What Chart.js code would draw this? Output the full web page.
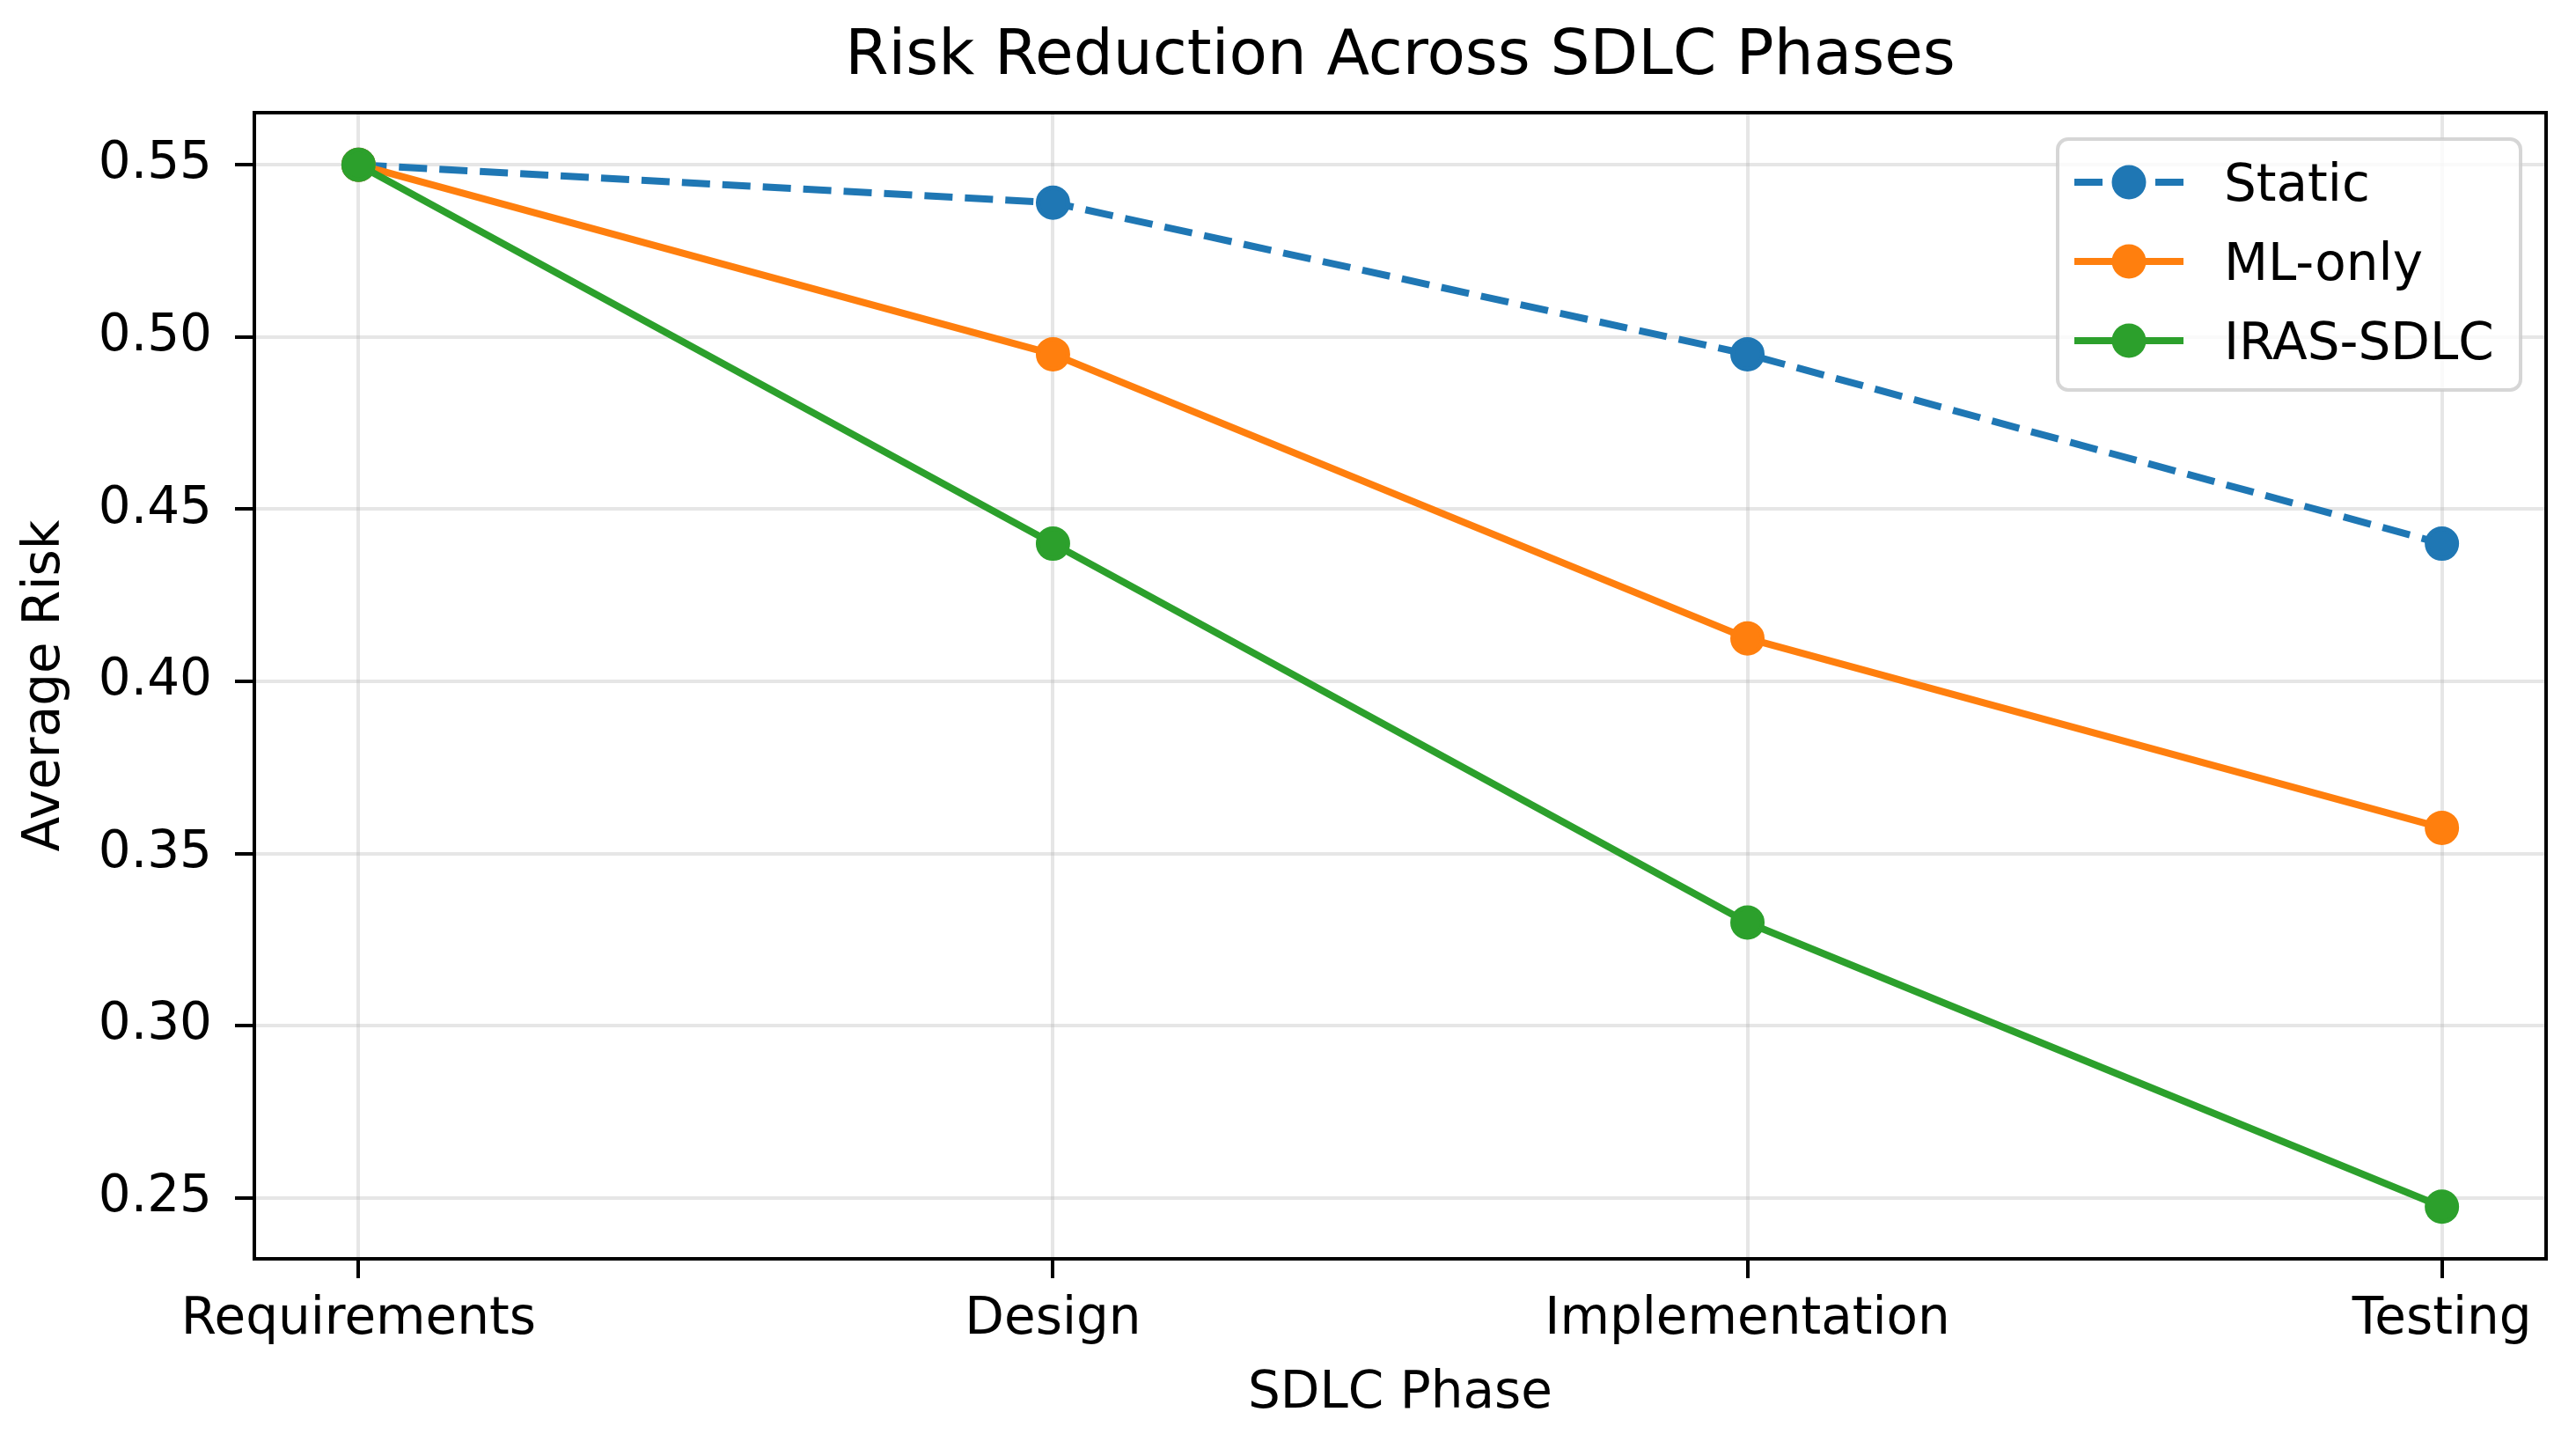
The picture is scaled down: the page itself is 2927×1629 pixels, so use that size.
<!DOCTYPE html>
<html><head><meta charset="utf-8">
<script src="https://cdn.jsdelivr.net/npm/chart.js@4/dist/chart.umd.min.js"></script>
<style>html,body{margin:0;padding:0;background:#fff;}#wrap{width:2927px;height:1629px;}</style>
</head><body><div id="wrap"><canvas id="c" width="2927" height="1629"></canvas></div>
<script>
const phases = ['Requirements', 'Design', 'Implementation', 'Testing'];
const staticRisk = [0.55, 0.539, 0.495, 0.44];
const mlOnlyRisk = [0.55, 0.495, 0.4125, 0.3575];
const irasRisk = [0.55, 0.44, 0.33, 0.2475];
const yTickValues = [0.25, 0.30, 0.35, 0.40, 0.45, 0.50, 0.55];
const seriesNames = ['Static', 'ML-only', 'IRAS-SDLC'];
const seriesColors = ['#1f77b4', '#ff7f0e', '#2ca02c'];
const seriesDashes = [[32, 14], [], []];
const chartTitle = 'Risk Reduction Across SDLC Phases';
const xTitle = 'SDLC Phase';
const yTitle = 'Average Risk';

const FONT = 'DejaVu Sans';
const allVals = staticRisk.concat(mlOnlyRisk, irasRisk);
const dMin = Math.min(...allVals), dMax = Math.max(...allVals);
const yPad = (dMax - dMin) * 0.05;
const xPad = (phases.length - 1) * 0.05;

const seriesData = [staticRisk, mlOnlyRisk, irasRisk];
const datasets = seriesData.map((arr, k) => ({
  label: seriesNames[k],
  data: arr.map((v, i) => ({x: i, y: v})),
  borderColor: seriesColors[k],
  backgroundColor: seriesColors[k],
  pointBackgroundColor: seriesColors[k],
  pointBorderColor: seriesColors[k],
  borderWidth: 8,
  borderDash: seriesDashes[k],
  pointRadius: 17,
  pointBorderWidth: 5,
  pointHoverRadius: 17,
  tension: 0,
  fill: false,
  order: 3 - k
}));

const tickFont = {family: FONT, size: 58, weight: 'normal', lineHeight: 1.2};
const gridOpts = {color: 'rgba(176,176,176,0.32)', lineWidth: 4, tickLength: 22, tickColor: '#000', tickWidth: 4, drawTicks: true};

const frameAndLegend = {
  id: 'frameAndLegend',
  afterDatasetsDraw(chart) {
    const {ctx, chartArea: a} = chart;
    ctx.save();
    ctx.strokeStyle = '#000';
    ctx.lineWidth = 4;
    ctx.strokeRect(a.left, a.top, a.right - a.left, a.bottom - a.top);
    ctx.restore();
  },
  afterDraw(chart) {
    const {ctx, chartArea: a} = chart;
    ctx.save();
    // title centred over the plot area
    ctx.fillStyle = '#000';
    ctx.font = '71px "' + FONT + '"';
    ctx.textAlign = 'center';
    ctx.textBaseline = 'middle';
    ctx.fillText(chartTitle, (a.left + a.right) / 2, 66);
    // legend
    const bx = 2338, by = 158, bw = 526, bh = 285, r = 12;
    ctx.beginPath();
    ctx.roundRect(bx, by, bw, bh, r);
    ctx.fillStyle = 'rgba(255,255,255,0.8)';
    ctx.fill();
    ctx.strokeStyle = 'rgba(204,204,204,0.8)';
    ctx.lineWidth = 4;
    ctx.stroke();
    const rowY = [207, 297, 387];
    chart.data.datasets.forEach((ds, k) => {
      const y = rowY[k];
      ctx.beginPath();
      ctx.setLineDash(seriesDashes[k]);
      ctx.strokeStyle = ds.borderColor;
      ctx.lineWidth = 8;
      ctx.moveTo(2357, y);
      ctx.lineTo(2481, y);
      ctx.stroke();
      ctx.setLineDash([]);
      ctx.beginPath();
      ctx.arc(2419, y, 19.5, 0, Math.PI * 2);
      ctx.fillStyle = ds.borderColor;
      ctx.fill();
      ctx.fillStyle = '#000';
      ctx.font = '58px "' + FONT + '"';
      ctx.textBaseline = 'alphabetic';
      ctx.textAlign = 'left';
      ctx.fillText(ds.label, 2527, y + 21);
    });
    ctx.restore();
  }
};

new Chart(document.getElementById('c'), {
  type: 'line',
  data: {datasets},
  options: {
    responsive: false,
    animation: false,
    devicePixelRatio: 1,
    events: [],
    layout: {padding: {left: 0, right: 34, top: 128, bottom: 0}},
    plugins: {
      legend: {display: false},
      tooltip: {enabled: false},
      title: {display: false}
    },
    scales: {
      x: {
        type: 'linear',
        min: -xPad, max: (phases.length - 1) + xPad,
        afterBuildTicks: s => { s.ticks = phases.map((p, i) => ({value: i})); },
        afterFit: s => { s.height = 199; },
        ticks: {autoSkip: false, maxRotation: 0, minRotation: 0, color: '#000', font: tickFont, padding: 13,
                callback: v => phases[v]},
        grid: gridOpts,
        border: {display: false},
        title: {display: true, text: xTitle, color: '#000', font: tickFont, padding: {top: 0, bottom: 10}}
      },
      y: {
        type: 'linear',
        min: dMin - yPad, max: dMax + yPad,
        afterBuildTicks: s => { s.ticks = yTickValues.map(v => ({value: v})); },
        afterFit: s => { s.width = 289; },
        ticks: {color: '#000', font: tickFont, padding: 26, callback: v => Number(v).toFixed(2)},
        grid: gridOpts,
        border: {display: false},
        title: {display: true, text: yTitle, color: '#000', font: tickFont, padding: {top: 17, bottom: 0}}
      }
    }
  },
  plugins: [frameAndLegend]
});
</script>
</body></html>
